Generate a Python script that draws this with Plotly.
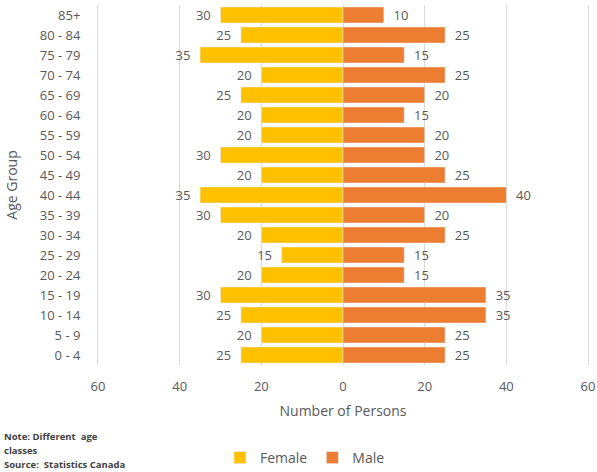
import plotly.graph_objects as go

# Age classes, youngest first (bottom of the pyramid)
age_groups = ["0 - 4", "5 - 9", "10 - 14", "15 - 19", "20 - 24", "25 - 29", "30 - 34",
              "35 - 39", "40 - 44", "45 - 49", "50 - 54", "55 - 59", "60 - 64",
              "65 - 69", "70 - 74", "75 - 79", "80 - 84", "85+"]
female = [25, 20, 25, 30, 20, 15, 20, 30, 35, 20, 30, 20, 20, 25, 20, 35, 25, 30]
male = [25, 25, 35, 35, 15, 15, 25, 20, 40, 25, 20, 20, 15, 20, 25, 15, 25, 10]

tick_vals = [-60, -40, -20, 0, 20, 40, 60]
tick_text = ["60", "40", "20", "0", "20", "40", "60"]

FONT = "Open Sans, Liberation Sans, sans-serif"
GREY = "#595959"
GRID = "#d9d9d9"
NBSP = "\u00a0"

fig = go.Figure()
# Female bars grow to the left (negative values), labels show the count
fig.add_trace(go.Bar(
    y=age_groups, x=[-v for v in female], orientation="h", name="Female",
    marker_color="#FFC000", text=[str(v) + NBSP * 2 for v in female],
    textposition="outside", constraintext="none",
    textfont=dict(color=GREY, size=13, family=FONT), cliponaxis=False,
))
fig.add_trace(go.Bar(
    y=age_groups, x=male, orientation="h", name="Male",
    marker_color="#ED7D31", text=[NBSP * 2 + str(v) for v in male],
    textposition="outside", constraintext="none",
    textfont=dict(color=GREY, size=13, family=FONT), cliponaxis=False,
))

fig.update_layout(
    width=597, height=472,
    margin=dict(l=98, r=9, t=5, b=107, autoexpand=False),
    barmode="relative", bargap=0.2,
    plot_bgcolor="white", paper_bgcolor="white",
    font=dict(family=FONT, color=GREY, size=13),
    legend=dict(orientation="h", x=(220 - 98) / 490, xanchor="left", y=-(458 - 365) / 360,
                yanchor="middle", font=dict(size=14, color=GREY), itemwidth=30,
                traceorder="normal"),
    xaxis=dict(range=[-60, 60], tickvals=tick_vals, ticktext=tick_text,
               showgrid=True, gridcolor=GRID, gridwidth=1, zeroline=False,
               showline=False, tickfont=dict(size=13, color=GREY), ticklabelstandoff=12,
               ticklabeloverflow="allow",
               title=dict(text="Number of Persons", font=dict(size=14, color=GREY), standoff=12)),
    # the y-axis line (mirrored) gives the outer ±60 grid lines
    yaxis=dict(categoryorder="array", categoryarray=age_groups, showgrid=False,
               zeroline=False, showline=True, linecolor=GRID, linewidth=1, mirror=True,
               ticks="", tickfont=dict(size=13, color=GREY), ticklabelstandoff=14,
               title=dict(text="Age Group", font=dict(size=14, color=GREY), standoff=18)),
)

# Footnote lines under the chart
note_lines = ["<b>Note: Different  age</b>", "<b>classes</b>", "<b>Source:  Statistics Canada</b>"]
for i, line in enumerate(note_lines):
    fig.add_annotation(
        text=line, xref="paper", yref="paper", x=-96 / 490, y=-(436 - 365 + i * 14.5) / 360,
        xanchor="left", yanchor="middle", align="left", showarrow=False,
        font=dict(size=9.5, color="#404040", family=FONT),
    )

fig.write_html("out.html")
